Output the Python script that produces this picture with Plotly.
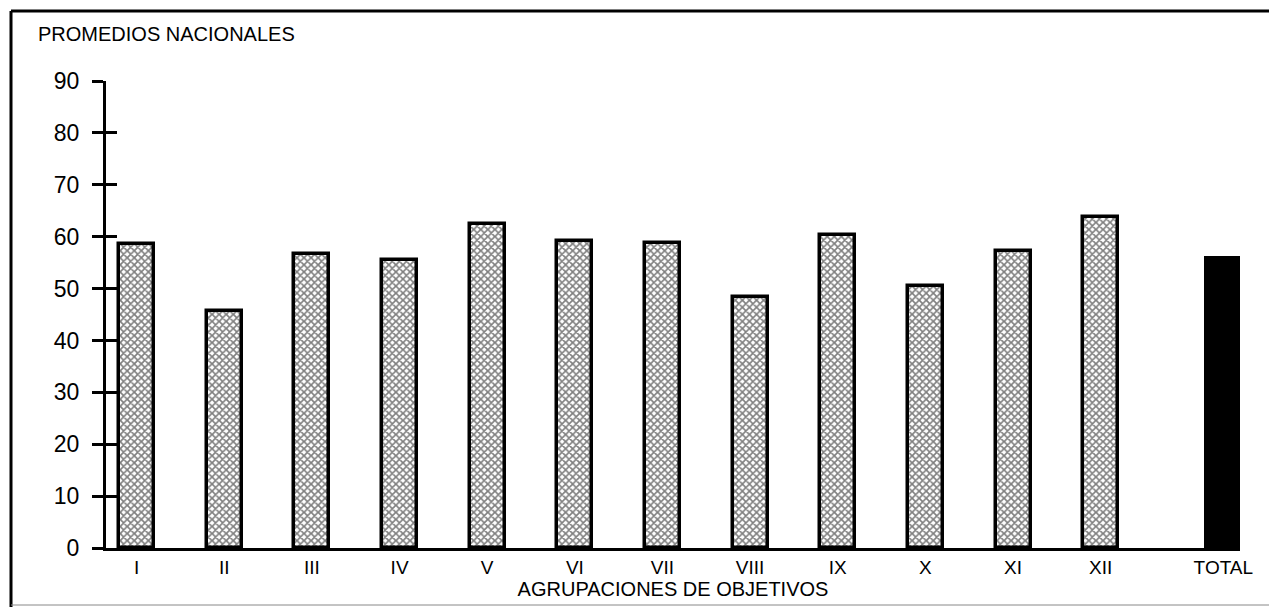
import numpy as np
import plotly.graph_objects as go

# Promedios nacionales por agrupacion de objetivos
grupos = ["I", "II", "III", "IV", "V", "VI", "VII", "VIII", "IX", "X", "XI", "XII", "TOTAL"]
promedios = [58.6, 45.7, 56.6, 55.5, 62.4, 59.2, 58.8, 48.4, 60.3, 50.5, 57.2, 63.8, 55.9]
ticks_y = [0, 10, 20, 30, 40, 50, 60, 70, 80, 90]

W, H = 1269, 607
L, R, T, B = 106, 29, 81, 59

# TOTAL bar sits a bit further away from the rest
posiciones = np.arange(len(grupos), dtype=float)
posiciones[-1] += 0.4

fig = go.Figure()
fig.add_trace(go.Bar(
    x=posiciones[:-1],
    y=promedios[:-1],
    width=0.4,
    marker=dict(
        color="white",
        line=dict(color="black", width=3.5),
        pattern=dict(shape="x", fgcolor="black", bgcolor="white", size=5, solidity=0.55),
    ),
    showlegend=False,
))
fig.add_trace(go.Bar(
    x=posiciones[-1:],
    y=promedios[-1:],
    width=0.4,
    marker=dict(color="black", line=dict(color="black", width=3)),
    showlegend=False,
))
# invisible trace to hold the second y axis (inner half of the crossing ticks)
fig.add_trace(go.Scatter(x=[posiciones[0]], y=[0], yaxis="y2", mode="markers",
                         marker=dict(opacity=0), showlegend=False, hoverinfo="skip"))


def px_x(p):
    return (p - L) / (W - L - R)


def px_y(p):
    return (H - B - p) / (H - T - B)


font = "Liberation Sans, Arial, sans-serif"
fig.update_layout(
    width=W, height=H,
    margin=dict(l=L, r=R, t=T, b=B),
    paper_bgcolor="white",
    plot_bgcolor="white",
    font=dict(family=font, color="black"),
    bargap=0,
    xaxis=dict(
        range=[-0.35, 12.59],
        tickvals=posiciones, ticktext=grupos,
        tickfont=dict(size=19),
        ticks="", showgrid=False, zeroline=False,
        showline=True, linecolor="black", linewidth=3,
        ticklabelstandoff=0,
        title=dict(text="AGRUPACIONES DE OBJETIVOS", font=dict(size=20), standoff=2),
    ),
    yaxis=dict(
        range=[0, 90],
        tickvals=ticks_y,
        tickfont=dict(size=23),
        ticks="outside", ticklen=11, tickwidth=3, tickcolor="black",
        showgrid=False, zeroline=False,
        showline=True, linecolor="black", linewidth=3,
        ticklabelstandoff=8,
    ),
    yaxis2=dict(
        range=[0, 90], overlaying="y", side="left",
        tickvals=ticks_y, showticklabels=False,
        ticks="inside", ticklen=11, tickwidth=3, tickcolor="black",
        showgrid=False, zeroline=False, showline=False,
    ),
    annotations=[dict(
        text="PROMEDIOS NACIONALES", xref="paper", yref="paper",
        x=px_x(36), y=px_y(34), xanchor="left", yanchor="middle",
        showarrow=False, font=dict(size=20),
    )],
    shapes=[
        dict(type="line", xref="paper", yref="paper", x0=px_x(11), x1=px_x(1275),
             y0=px_y(11), y1=px_y(11), line=dict(color="black", width=3)),
        dict(type="line", xref="paper", yref="paper", x0=px_x(11), x1=px_x(11),
             y0=px_y(11), y1=px_y(610), line=dict(color="black", width=3)),
        dict(type="line", xref="paper", yref="paper", x0=px_x(11), x1=px_x(1275),
             y0=px_y(605), y1=px_y(605), line=dict(color="#888888", width=1)),
    ],
)

# drop the default page margin so the figure sits at the window origin
fig.write_html("out.html", config={"displayModeBar": False},
               post_script="document.body.style.margin='0';")
